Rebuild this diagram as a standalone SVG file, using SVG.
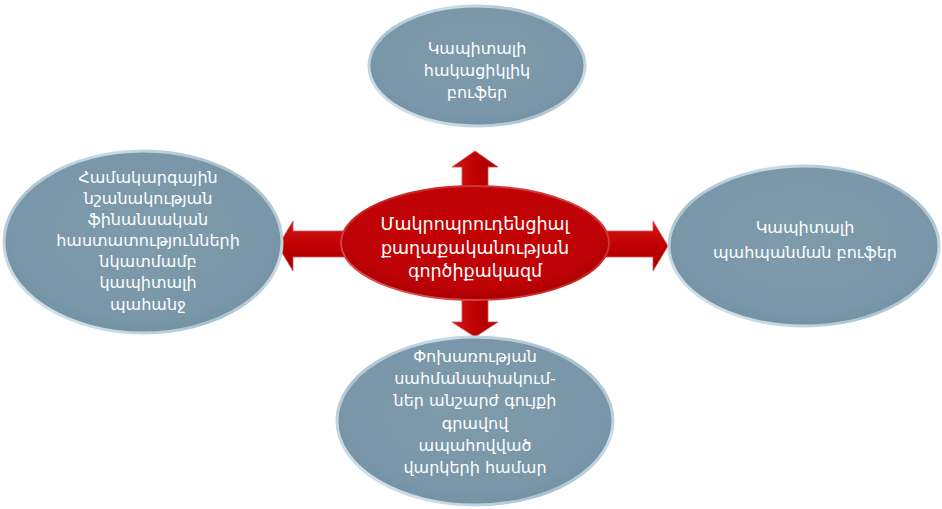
<svg xmlns="http://www.w3.org/2000/svg" width="942" height="509" viewBox="0 0 942 509">
<defs>
<radialGradient id="blueFill" cx="50%" cy="45%" r="55%">
<stop offset="0" stop-color="#7E9BAB"/>
<stop offset="0.85" stop-color="#7997A8"/>
<stop offset="1" stop-color="#7392A3"/>
</radialGradient>
<linearGradient id="blueRim" x1="0" y1="1" x2="1" y2="0">
<stop offset="0" stop-color="#E4F0F6"/>
<stop offset="0.4" stop-color="#A9C2CF"/>
<stop offset="0.7" stop-color="#C9DCE6"/>
<stop offset="1" stop-color="#8FAAB9"/>
</linearGradient>
<radialGradient id="redFill" cx="50%" cy="40%" r="60%">
<stop offset="0" stop-color="#C20002"/>
<stop offset="0.8" stop-color="#BE0306"/>
<stop offset="1" stop-color="#A80000"/>
</radialGradient>
<linearGradient id="redRim" x1="0" y1="1" x2="1" y2="0">
<stop offset="0" stop-color="#E86060"/>
<stop offset="0.5" stop-color="#C82020"/>
<stop offset="1" stop-color="#D84848"/>
</linearGradient>
<linearGradient id="arrowV" x1="0" y1="0" x2="1" y2="0">
<stop offset="0" stop-color="#D01818"/>
<stop offset="0.5" stop-color="#C00000"/>
<stop offset="1" stop-color="#A00000"/>
</linearGradient>
<linearGradient id="arrowH" x1="0" y1="0" x2="0" y2="1">
<stop offset="0" stop-color="#D01818"/>
<stop offset="0.5" stop-color="#C00000"/>
<stop offset="1" stop-color="#A00000"/>
</linearGradient>
</defs>
<style>
.outer{fill:url(#blueFill);stroke:url(#blueRim);stroke-width:3}
.center{fill:url(#redFill);stroke:url(#redRim);stroke-width:2}
.arrow{stroke:#E05050;stroke-width:0.8}
text{font-family:"DejaVu Sans","Noto Sans",sans-serif;fill:#FFFFFF;text-anchor:middle;font-size:16px}
.ctext{font-size:17.5px}
</style>

<g id="connectors">
<polygon class="arrow" fill="url(#arrowV)" points="462,200 462,167 452,167 475,151 498,167 488,167 488,200"/>
<polygon class="arrow" fill="url(#arrowV)" points="462,290 462,322 452,322 475,337 498,322 488,322 488,290"/>
<polygon class="arrow" fill="url(#arrowH)" points="360,231 293,231 293,221 278,246 293,271 293,257 360,257"/>
<polygon class="arrow" fill="url(#arrowH)" points="590,231 653,231 653,221 668,246 653,271 653,257 590,257"/>
</g>

<g id="node-top">
<ellipse class="outer" cx="477" cy="66" rx="108" ry="60"/>
<text x="477" y="54">Կապիտալի</text>
<text x="477" y="76">հակացիկլիկ</text>
<text x="477" y="98">բուֆեր</text>
</g>

<g id="node-left">
<ellipse class="outer" cx="143" cy="242" rx="139" ry="91"/>
<text x="148" y="183">Համակարգային</text>
<text x="148" y="204">նշանակության</text>
<text x="148" y="225">ֆինանսական</text>
<text x="148" y="246">հաստատությունների</text>
<text x="148" y="267">նկատմամբ</text>
<text x="148" y="288">կապիտալի</text>
<text x="148" y="310">պահանջ</text>
</g>

<g id="node-right">
<ellipse class="outer" cx="804" cy="246" rx="135" ry="80"/>
<text x="805" y="233">Կապիտալի</text>
<text x="805" y="258">պահպանման  բուֆեր</text>
</g>

<g id="node-bottom">
<ellipse class="outer" cx="475" cy="421" rx="138" ry="84"/>
<text x="475" y="362">Փոխառության</text>
<text x="475" y="384">սահմանափակում-</text>
<text x="475" y="406">ներ անշարժ գույքի</text>
<text x="475" y="429">գրավով</text>
<text x="475" y="451">ապահովված</text>
<text x="475" y="473">վարկերի  համար</text>
</g>

<g id="node-center">
<ellipse class="center" cx="475" cy="243" rx="134" ry="57"/>
<text class="ctext" x="475" y="230">Մակրոպրուդենցիալ</text>
<text class="ctext" x="475" y="254">քաղաքականության</text>
<text class="ctext" x="475" y="277">գործիքակազմ</text>
</g>
</svg>
